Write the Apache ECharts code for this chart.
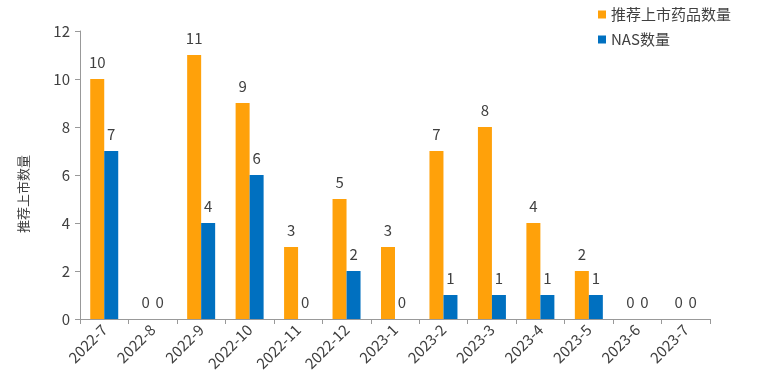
<!DOCTYPE html>
<html><head><meta charset="utf-8">
<script src="https://cdn.jsdelivr.net/npm/echarts@6/dist/echarts.min.js"></script>
<style>html,body{margin:0;padding:0;background:#fff}#c{width:762px;height:384px}</style>
</head><body><div id="c"></div>
<script>
const categories = ['2022-7','2022-8','2022-9','2022-10','2022-11','2022-12','2023-1','2023-2','2023-3','2023-4','2023-5','2023-6','2023-7'];
const recommended = [10,0,11,9,3,5,3,7,8,4,2,0,0];
const nas = [7,0,4,6,0,2,0,1,1,1,1,0,0];
const seriesNames = ['推荐上市药品数量','NAS数量'];
const yTicks = {min:0,max:12,interval:2};
const font = '"Noto Sans CJK SC","Liberation Sans",sans-serif';
const txt = '#404040';
const chart = echarts.init(document.getElementById('c'));
chart.setOption({
  animation:false,
  textStyle:{fontFamily:font},
  legend:{orient:'vertical',right:26,top:2,itemWidth:8,itemHeight:8,itemGap:10,
    textStyle:{fontSize:15,color:txt,fontFamily:font},icon:'rect'},
  grid:{left:80,right:52,top:31,bottom:65},
  xAxis:{type:'category',data:categories,
    axisLine:{lineStyle:{color:'#999'}},
    axisTick:{show:true,lineStyle:{color:'#999'},length:5},
    axisLabel:{rotate:45,color:txt,fontSize:15,fontFamily:font,margin:8}},
  yAxis:{type:'value',min:yTicks.min,max:yTicks.max,interval:yTicks.interval,
    name:'推荐上市数量',nameLocation:'middle',nameRotate:90,nameGap:50,
    nameTextStyle:{color:txt,fontSize:13,fontFamily:font,padding:[0,38,0,0]},
    axisLine:{show:true,lineStyle:{color:'#999'}},
    axisTick:{show:true,lineStyle:{color:'#999'},length:5},
    splitLine:{show:false},
    axisLabel:{color:txt,fontSize:15,fontFamily:font,margin:10}},
  series:[
    {name:seriesNames[0],type:'bar',data:recommended,barWidth:14,barGap:'0%',
     itemStyle:{color:'#FFA10A'},
     label:{show:true,position:'top',color:txt,fontSize:15,distance:9}},
    {name:seriesNames[1],type:'bar',data:nas,barWidth:14,
     itemStyle:{color:'#0070C0'},
     label:{show:true,position:'top',color:txt,fontSize:15,distance:9}}
  ]
});
</script></body></html>
